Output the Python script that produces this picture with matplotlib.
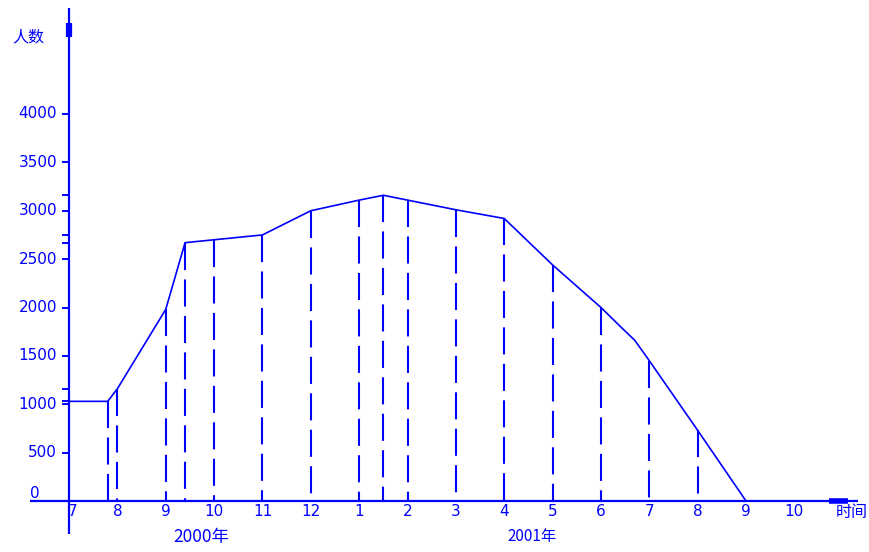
import matplotlib
matplotlib.use("Agg")
import matplotlib.pyplot as plt

# data (x = month index, 7 = July 2000, 13 = Jan 2001)
months = [7, 7.8, 8, 9, 9.4, 10, 11, 12, 13, 13.5, 14, 15, 16, 17, 18, 18.45, 18.7, 19, 20, 21]
people = [1030, 1030, 1160, 1980, 2670, 2700, 2750, 3000, 3110, 3160, 3110, 3010, 2920, 2440, 2000, 1780, 1660, 1450, 730, 0]
drop_months = [7.8, 8, 9, 9.4, 10, 11, 12, 13, 13.5, 14, 15, 16, 17, 18, 19, 20]
month_pos = list(range(7, 23))
month_labels = ['7', '8', '9', '10', '11', '12', '1', '2', '3', '4', '5', '6', '7', '8', '9', '10']
y_ticks = [500, 1000, 1500, 2000, 2500, 3000, 3500, 4000]
y_labels = ['500', '1000', '1500', '2000', '2500', '3000', '3500', '4000']
extra_ticks = [3160, 2750, 2670, 1160, 1030]

BLUE = '#0000ff'
CJK = ['Noto Sans CJK SC', 'DejaVu Sans']

# pixel mapping of the original picture
PX_M = 48.36      # pixels per month
PX_V = 0.09675    # pixels per person


def px(x):
    return 7 + (x - 69) / PX_M


def py(y):
    return (501 - y) / PX_V


fig = plt.figure(figsize=(8.69, 5.52), dpi=100)
ax = fig.add_axes([0, 0, 1, 1])
ax.set_xlim(px(0), px(869))
ax.set_ylim(py(552), py(0))
ax.axis('off')

# axes lines
ax.plot([px(30), px(858)], [0, 0], color=BLUE, lw=1.6, solid_capstyle='butt')
ax.plot([px(829), px(848)], [0, 0], color=BLUE, lw=4, solid_capstyle='butt')
ax.plot([7, 7], [py(534), py(8)], color=BLUE, lw=1.6, solid_capstyle='butt')
ax.plot([7, 7], [py(37), py(23)], color=BLUE, lw=4.5, solid_capstyle='butt')

# y ticks
for v in y_ticks + extra_ticks:
    ax.plot([px(62), 7], [v, v], color=BLUE, lw=1.4, solid_capstyle='butt')
for v, lab in zip(y_ticks, y_labels):
    ax.text(px(57), v, lab, color=BLUE, fontsize=11, ha='right', va='center')
ax.text(px(35), py(493), '0', color=BLUE, fontsize=11, ha='center', va='center')

# month labels
for m, lab in zip(month_pos, month_labels):
    off = 0.08 if m == 7 else 0
    ax.text(m + off, py(512), lab, color=BLUE, fontsize=11, ha='center', va='center')

# curve and dashed drops (dash pattern starts at the curve)
ax.plot(months, people, color=BLUE, lw=1.2)
for m in drop_months:
    v = people[months.index(m)]
    ax.plot([m, m], [v, 0], color=BLUE, lw=1.5, linestyle=(0, (13, 4.5)))

# titles
ax.text(px(28), py(37), '人数', color=BLUE, fontsize=11.5, family=CJK, ha='center', va='center')
ax.text(px(852), py(512), '时间', color=BLUE, fontsize=11.5, family=CJK, ha='center', va='center')
ax.text(px(201), py(537), '2000年', color=BLUE, fontsize=12.5, family=CJK, ha='center', va='center')
ax.text(px(532), py(537), '2001年', color=BLUE, fontsize=11, family=CJK, ha='center', va='center')

fig.savefig('out.png', dpi=100)
